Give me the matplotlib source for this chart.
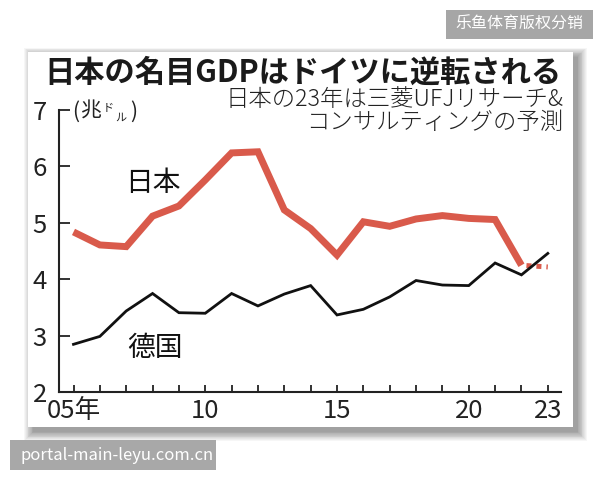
import numpy as np
import matplotlib
matplotlib.use("Agg")
import matplotlib.pyplot as plt
from matplotlib.patches import Rectangle

plt.rcParams['font.family'] = ['Noto Sans CJK JP', 'DejaVu Sans']

# ---- data ----
years = list(range(2005, 2024))
japan = [4.84, 4.61, 4.58, 5.12, 5.30, 5.76, 6.24, 6.26, 5.23, 4.90,
         4.43, 5.02, 4.94, 5.07, 5.13, 5.08, 5.06, 4.25, 4.22]
germany = [2.85, 2.99, 3.44, 3.75, 3.41, 3.40, 3.75, 3.53, 3.74, 3.89,
           3.37, 3.47, 3.69, 3.98, 3.90, 3.89, 4.29, 4.08, 4.46]
forecast_year = 2023
xtick_years = [2005, 2010, 2015, 2020, 2023]
xtick_labels = ['05年', '10', '15', '20', '23']
yticks = [2, 3, 4, 5, 6, 7]
title = '日本の名目GDPはドイツに逆転される'
subtitle1 = '日本の23年は三菱UFJリサーチ&'
subtitle2 = 'コンサルティングの予測'
label_japan = '日本'
label_germany = '德国'
wm_top = '乐鱼体育版权分销'
wm_bottom = 'portal-main-leyu.com.cn'

W, H = 600, 480
fig = plt.figure(figsize=(6, 4.8), dpi=100)
fig.patch.set_facecolor('white')

# background / decoration axes in pixel coordinates
bg = fig.add_axes([0, 0, 1, 1], zorder=0)
bg.set_xlim(0, W)
bg.set_ylim(H, 0)
bg.axis('off')

# card with shadow
cx0, cy0, cx1, cy1 = 28.3, 51.7, 572.5, 426.7
for grow in np.linspace(9, 0, 12):
    bg.add_patch(Rectangle((cx0 + 5 - grow, cy0 + 5 - grow),
                           (cx1 - cx0) + 2 * grow, (cy1 - cy0) + 2 * grow,
                           facecolor='black', edgecolor='none', alpha=0.035))
bg.add_patch(Rectangle((cx0, cy0), cx1 - cx0, cy1 - cy0,
                       facecolor='white', edgecolor='none'))

# watermarks
bg.add_patch(Rectangle((446, 10), 147, 29, facecolor='#a6a6a6', edgecolor='none'))
bg.text(519.5, 24.5, wm_top, color='white', fontsize=11.5, ha='center', va='center',
        family=['Noto Sans CJK SC', 'DejaVu Sans'])
bg.add_patch(Rectangle((10, 440), 206, 29.5, facecolor='#a8a8a8', edgecolor='none'))
bg.text(20, 455, wm_bottom, color='white', fontsize=12, ha='left', va='center',
        family=['Noto Sans CJK SC', 'DejaVu Sans'])

# titles
bg.text(302.5, 73, title, fontsize=21.8, fontweight='bold', ha='center', va='center',
        color='#1a1a1a')
bg.text(563, 100, subtitle1, fontsize=16.8, fontweight=300, ha='right', va='center',
        color='#222222')
bg.text(563, 122.5, subtitle2, fontsize=16.8, fontweight=300, ha='right', va='center',
        color='#222222')

# unit label (兆ドル)
bg.text(72, 112, '(', fontsize=15, ha='left', va='center', color='#222222')
bg.text(90, 112, '兆', fontsize=15, ha='center', va='center', color='#222222')
bg.text(108.5, 108, 'ド', fontsize=8, ha='center', va='center', color='#222222')
bg.text(121, 117.5, 'ル', fontsize=8, ha='center', va='center', color='#222222')
bg.text(137, 112, ')', fontsize=15, ha='right', va='center', color='#222222')

# main axes placed by pixel geometry
ax_l, ax_r, ax_t, ax_b = 59.3, 560.7, 110.0, 392.3
ax = fig.add_axes([ax_l / W, (H - ax_b) / H, (ax_r - ax_l) / W, (ax_b - ax_t) / H],
                  zorder=2)
ax.set_facecolor('none')
x0px, step = 73.5, 26.35
ax.set_xlim(2005 - (x0px - ax_l) / step, 2005 + (ax_r - x0px) / step)
ax.set_ylim(2, 7)

red = '#d95a4b'
fi = years.index(forecast_year)
ax.plot(years[:fi], japan[:fi], color=red, lw=5, solid_joinstyle='miter',
        solid_capstyle='butt', zorder=2)
ax.plot(years[fi - 1:], japan[fi - 1:], color=red, lw=3.6, linestyle=(1, (1, 1)),
        dash_capstyle='butt', zorder=2)
ax.plot(years, germany, color='#111111', lw=2, solid_joinstyle='miter', zorder=3)

ax.text(2008.0, 5.71, label_japan, fontsize=20, ha='center', va='center', color='#111111')
ax.text(2008.09, 2.79, label_germany, fontsize=20, ha='center', va='center', color='#111111',
        family=['Noto Sans CJK SC', 'DejaVu Sans'])

for s in ['top', 'right']:
    ax.spines[s].set_visible(False)
for s in ['left', 'bottom']:
    ax.spines[s].set_linewidth(1.5)
    ax.spines[s].set_color('#222222')

ax.set_yticks(yticks)
ax.set_yticklabels([str(v) for v in yticks])
ax.tick_params(axis='y', direction='in', length=8, width=1.3, color='#222222',
               labelsize=18.5, pad=9, labelcolor='#222222')
ax.set_xticks(years, minor=True)
ax.set_xticks(xtick_years)
ax.set_xticklabels(xtick_labels)
ax.tick_params(axis='x', which='both', direction='in', length=5, width=1.3,
               color='#222222', labelsize=18.5, pad=4, labelcolor='#222222')

fig.savefig('out.png', dpi=100, facecolor='white')
